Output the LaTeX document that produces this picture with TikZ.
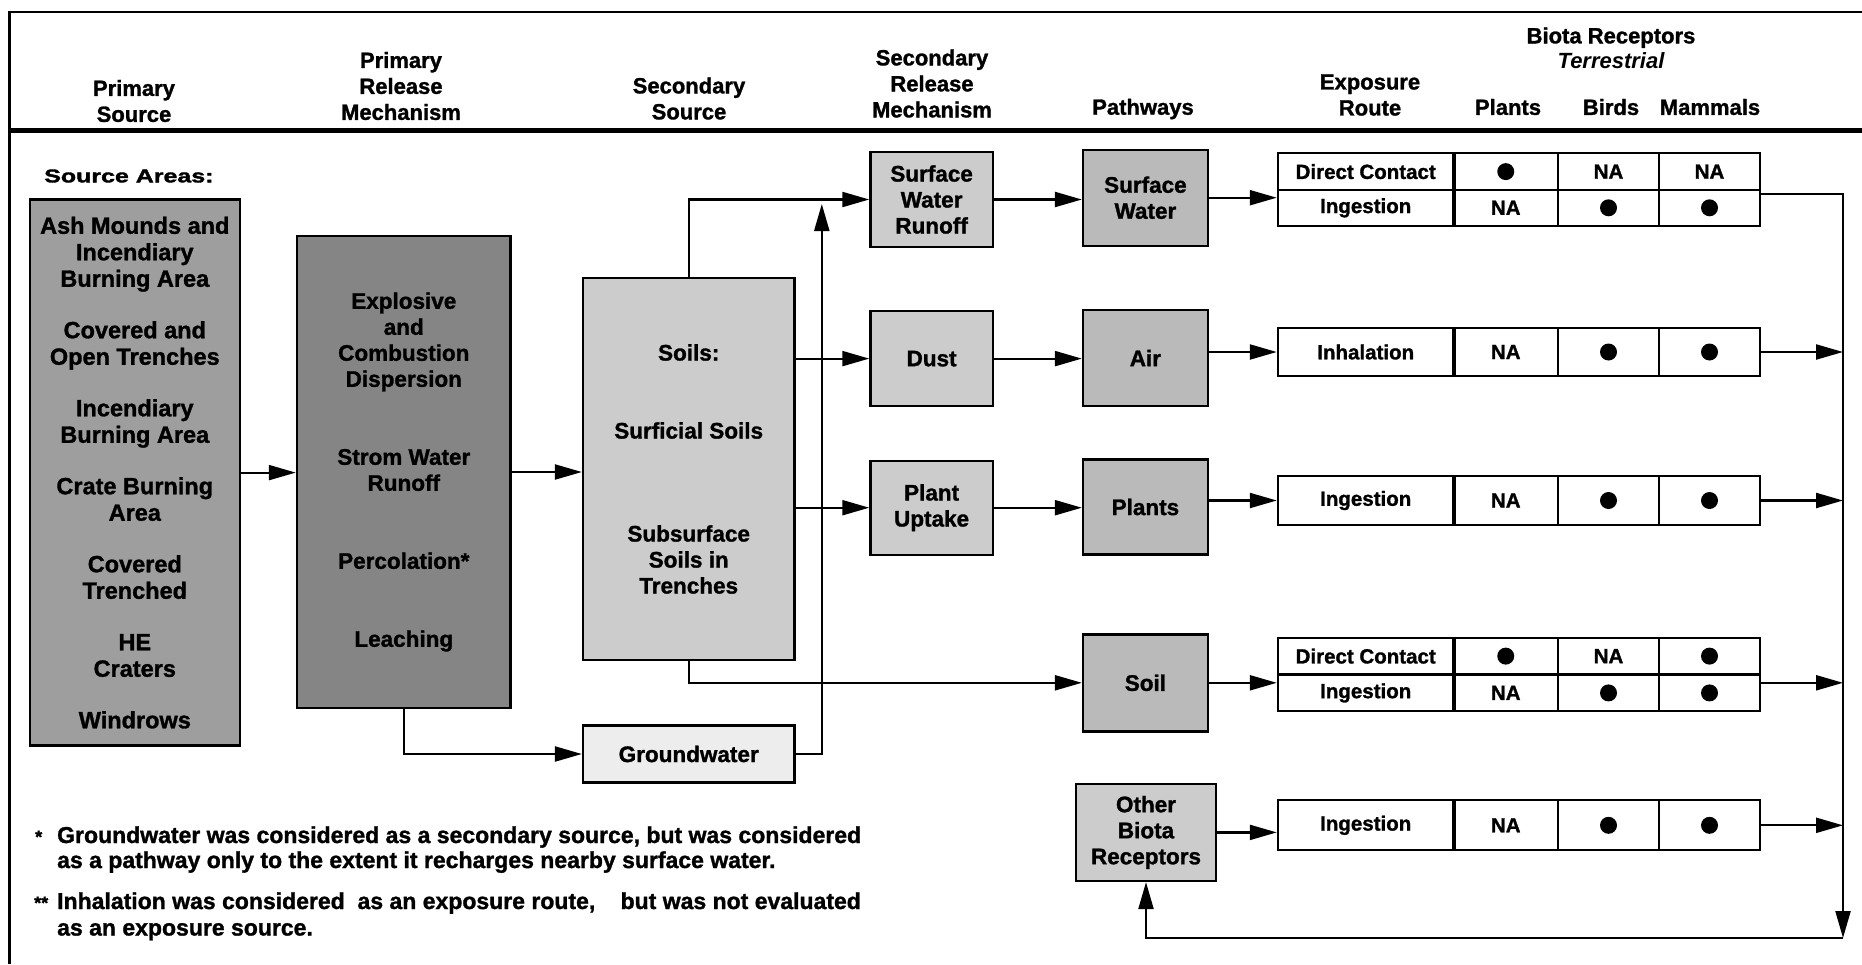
\documentclass[tikz,border=0pt]{standalone}
\usepackage{fontspec}
\setmainfont{Liberation Sans}[BoldFeatures={FakeBold=1.3}]
\newfontfamily\widefont{Liberation Sans}[FakeStretch=1.35,BoldFeatures={FakeBold=1.8}]
\usetikzlibrary{arrows.meta,calc}
\newcommand\tbul{\tikz\fill (0,0) circle (8.5pt);}
\newcommand\trow[7]{%
 \node[cell, minimum width=175.7pt, minimum height=#3pt] (#1r) at (1365.7,#2) {#4};
 \node[cell, minimum width=104.5pt, minimum height=#3pt] (#1p) at (1505.75,#2) {#5};
 \node[cell, minimum width=101pt, minimum height=#3pt] (#1b) at (1608.5,#2) {#6};
 \node[cell, minimum width=101pt, minimum height=#3pt] (#1m) at (1709.5,#2) {#7};}
\begin{document}
\begin{tikzpicture}[x=1pt,y=-1pt,
 box/.style={draw, line width=2.4pt, inner sep=0pt, align=center, font=\fontsize{22.5}{26}\selectfont\bfseries},
 hdr/.style={align=center, inner sep=0pt, font=\fontsize{22}{26}\selectfont\bfseries},
 cell/.style={draw, line width=2.2pt, inner sep=0pt, font=\fontsize{20.5}{24}\selectfont\bfseries},
 fn/.style={anchor=base west, inner sep=0pt, font=\fontsize{23}{26}\selectfont\bfseries},
 mk/.style={anchor=base west, inner sep=0pt, font=\fontsize{18}{20}\selectfont\bfseries},
 conn/.style={line width=2.2pt},
 arr/.style={conn, -{Triangle[length=27pt,width=15pt]}},
 sep/.style={line width=3.4pt},
 psfill/.style={fill=black!38},
 prmfill/.style={fill=black!48},
 lightfill/.style={fill=black!20},
 pathfill/.style={fill=black!27},
 gwfill/.style={fill=black!7}]
\useasboundingbox (0,0) rectangle (1862,964);
% frame
\draw[line width=2.5pt] (1862,12) -- (9.5,12) -- (9.5,964);
\draw[line width=4.5pt] (9.5,130.6) -- (1862,130.6);
% headers
\node[hdr] (h1) at (134,101) {Primary\\Source};
\node[hdr] (h2) at (401,86) {Primary\\Release\\Mechanism};
\node[hdr] (h3) at (689,98.5) {Secondary\\Source};
\node[hdr] (h4) at (932,83.5) {Secondary\\Release\\Mechanism};
\node[hdr] (h5) at (1143,109) {Pathways};
\node[hdr] (h6) at (1370,95) {Exposure\\Route};
\node[hdr] (h7) at (1508,107) {Plants};
\node[hdr] (h8) at (1611,107) {Birds};
\node[hdr] (h9) at (1710,107) {Mammals};
\node[hdr, font=\fontsize{22}{25}\selectfont\bfseries] (h10) at (1611,48) {Biota Receptors\\\itshape Terrestrial};
\node[anchor=west, inner sep=0pt, font=\widefont\bfseries\fontsize{18.5}{20}\selectfont] (sa) at (44,176) {Source Areas:};
% boxes
\node[box, psfill, minimum width=210pt, minimum height=546pt, font=\fontsize{23.5}{26.5}\selectfont\bfseries] (ps) at (134.8,472.6)
 {Ash Mounds and\\Incendiary\\Burning Area\\[25pt]Covered and\\Open Trenches\\[25pt]Incendiary\\Burning Area\\[25pt]Crate Burning\\Area\\[25pt]Covered\\Trenched\\[25pt]HE\\Craters\\[25pt]Windrows};
\node[box, prmfill, minimum width=213.7pt, minimum height=471.5pt] (prm) at (403.8,472)
 {Explosive\\and\\Combustion\\Dispersion\\[52pt]Strom Water\\Runoff\\[52pt]Percolation*\\[52pt]Leaching};
\node[box, lightfill, minimum width=211.3pt, minimum height=382.4pt] (ss) at (688.7,469)
 {Soils:\\[52pt]Surficial Soils\\[77pt]Subsurface\\Soils in\\Trenches};
\node[box, gwfill, minimum width=211.3pt, minimum height=57pt] (gw) at (688.7,754) {Groundwater};
\node[box, lightfill, minimum width=122.3pt, minimum height=95pt] (swr) at (931.6,199.5) {Surface\\Water\\Runoff};
\node[box, lightfill, minimum width=122.3pt, minimum height=95pt] (dust) at (931.6,358.6) {Dust};
\node[box, lightfill, minimum width=122.3pt, minimum height=94pt] (pu) at (931.6,507.7) {Plant\\Uptake};
\node[box, pathfill, minimum width=124.7pt, minimum height=96pt] (sw) at (1145.4,197.7) {Surface\\Water};
\node[box, pathfill, minimum width=124.7pt, minimum height=96pt] (air) at (1145.4,358) {Air};
\node[box, pathfill, minimum width=124.7pt, minimum height=95pt] (plants) at (1145.4,507) {Plants};
\node[box, pathfill, minimum width=124.7pt, minimum height=97pt] (soil) at (1145.4,682.8) {Soil};
\node[box, lightfill, minimum width=140pt, minimum height=97pt] (obr) at (1146,832.4) {Other\\Biota\\Receptors};
% tables
\trow{t1a}{171.6}{36.8}{Direct Contact}{\tbul}{NA}{NA}
\trow{t1b}{207.8}{35.6}{Ingestion}{NA}{\tbul}{\tbul}
\trow{t2}{352}{48.6}{Inhalation}{NA}{\tbul}{\tbul}
\trow{t3}{500.5}{48.7}{Ingestion}{NA}{\tbul}{\tbul}
\trow{t4a}{656.1}{36.8}{Direct Contact}{\tbul}{NA}{\tbul}
\trow{t4b}{692.9}{36.8}{Ingestion}{NA}{\tbul}{\tbul}
\trow{t5}{825.3}{50}{Ingestion}{NA}{\tbul}{\tbul}
\draw[sep] (t1ar.north east) -- (t1br.south east);
\draw[sep] (t2r.north east) -- (t2r.south east);
\draw[sep] (t3r.north east) -- (t3r.south east);
\draw[sep] (t4ar.north east) -- (t4br.south east);
\draw[sep] (t5r.north east) -- (t5r.south east);
% connectors
\coordinate (gwtop) at (821.8,204);
\coordinate (rtop) at (1843,193.6);
\coordinate (rbot) at (1843,938);
\draw[arr] (ps.east) -- (ps.east -| prm.west);
\draw[arr] (prm.east) -- (prm.east -| ss.west);
\draw[arr] (ss.north) |- (swr.west);
\draw[arr] (ss.east |- dust.west) -- (dust.west);
\draw[arr] (ss.east |- pu.west) -- (pu.west);
\draw[arr] (ss.south) |- (soil.west);
\draw[arr] (prm.south) |- (gw.west);
\draw[arr] (gw.east) -| (gwtop);
\draw[arr] (swr.east) -- (swr.east -| sw.west);
\draw[arr] (dust.east) -- (dust.east -| air.west);
\draw[arr] (pu.east) -- (pu.east -| plants.west);
\draw[arr] (sw.east) -- (sw.east -| t1ar.west);
\draw[arr] (air.east |- t2r.west) -- (t2r.west);
\draw[arr] (plants.east |- t3r.west) -- (t3r.west);
\draw[arr] (soil.east) -- (soil.east -| t4ar.west);
\draw[arr] (obr.east) -- (obr.east -| t5r.west);
\draw[arr] (t1bm.east |- rtop) -- (rtop) -- (rbot);
\draw[arr] (t2m.east) -- (t2m.east -| rtop);
\draw[arr] (t3m.east) -- (t3m.east -| rtop);
\draw[arr] (soil.east -| t4bm.east) -- (soil.east -| rtop);
\draw[arr] (t5m.east) -- (t5m.east -| rtop);
\draw[arr] (rbot) -| (obr.south);
% footnotes
\node[mk] (fm1) at (35,843) {*};
\node[fn] (fa1) at (57,843) {Groundwater was considered as a secondary source, but was considered};
\node[fn] (fa2) at (57,868) {as a pathway only to the extent it recharges nearby surface water.};
\node[mk] (fm2) at (34,909) {**};
\node[fn] (fb1) at (57,909) {Inhalation was considered\ \ as an exposure route,\hspace{1.1em}but was not evaluated};
\node[fn] (fb2) at (57,935.5) {as an exposure source.};
\end{tikzpicture}
\end{document}
